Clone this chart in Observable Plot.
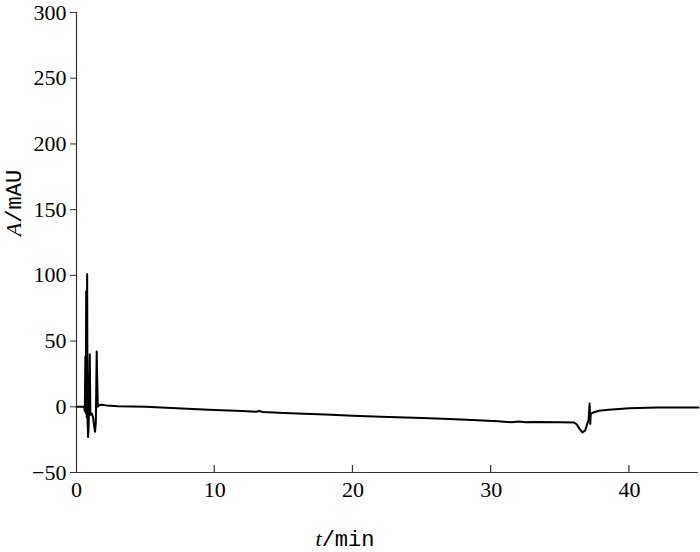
<!DOCTYPE html>
<html>
<head>
<meta charset="utf-8">
<script src="https://cdn.jsdelivr.net/npm/d3@7"></script>
<script src="https://cdn.jsdelivr.net/npm/@observablehq/plot@0.6"></script>
<style>
  body { margin: 0; background: #fff; }
</style>
</head>
<body>
<div id="chart"></div>
<script>
const times = [0, 0.55, 0.6, 0.64, 0.67, 0.7, 0.74, 0.77, 0.8, 0.84, 0.88, 0.92, 0.96, 1.0, 1.1, 1.2, 1.28, 1.34, 1.4, 1.46, 1.5, 1.54, 1.6, 1.8, 2.2, 3, 5, 8, 10, 12, 13, 13.2, 13.5, 15, 18, 20, 22, 25, 27, 29, 30.5, 31.5, 32, 32.5, 33, 35, 36, 36.2, 36.4, 36.6, 36.8, 36.95, 37.05, 37.12, 37.17, 37.2, 37.25, 37.5, 37.8, 38.5, 40, 42, 45];
const absorbance = [0, 0, -3, 38, -5, 88, -8, 101, -10, -23, -15, 10, 40, -6, -5, -8, -15, -19, -12, 42, 20, 0, 1, 1.5, 1, 0.5, 0, -1.5, -2.5, -3.2, -3.8, -3.2, -4, -4.8, -5.8, -6.8, -7.5, -8.5, -9.3, -10.3, -11, -11.8, -11.2, -11.7, -11.5, -11.8, -12, -13.5, -17, -19.5, -18, -13, -10, 2.5, -13, -6, -5, -4, -3, -2.2, -1.2, -0.6, -0.5];
const xTicks = [0, 10, 20, 30, 40];
const yTicks = [-50, 0, 50, 100, 150, 200, 250, 300];

const data = times.map((t, i) => ({t, a: absorbance[i]}));

const chart = Plot.plot({
  width: 700,
  height: 552,
  marginLeft: 76,
  marginRight: 2,
  marginTop: 12,
  marginBottom: 80,
  style: {fontFamily: "'Liberation Serif', serif", fontSize: "22px", color: "#000", background: "#fff"},
  x: {domain: [0, 45]},
  y: {domain: [-50, 300]},
  marks: [
    Plot.axisY({ticks: yTicks, tickSize: 6, tickPadding: 4, label: null, stroke: "#333"}),
    Plot.axisX({ticks: xTicks, tickSize: 0, tickPadding: 9, label: null}),
    Plot.ruleX([0], {stroke: "#333", strokeWidth: 1.2}),
    Plot.ruleY([-50], {stroke: "#333", strokeWidth: 1.2}),
    Plot.line(data, {x: "t", y: "a", stroke: "#000", strokeWidth: 2, strokeLinejoin: "round"})
  ]
});

document.getElementById("chart").appendChild(chart);

const svg = d3.select(chart);
const xs = chart.scale("x");
const ys = chart.scale("y");
const yBase = ys.apply(-50);
svg.append("g").attr("class", "x-ticks-inward")
  .selectAll("line").data(xTicks.slice(1)).join("line")
  .attr("x1", d => xs.apply(d)).attr("x2", d => xs.apply(d))
  .attr("y1", yBase).attr("y2", yBase - 7)
  .attr("stroke", "#333").attr("stroke-width", 1.2);

const yl = svg.append("text")
  .attr("transform", "translate(21,203) rotate(-90)")
  .attr("text-anchor", "middle")
  .attr("font-size", 22)
  .attr("fill", "#000");
yl.append("tspan").attr("font-style", "italic").attr("font-family", "'Liberation Serif', serif").text("A");
yl.append("tspan").attr("font-family", "'Liberation Mono', monospace").text("/mAU");

const xl = svg.append("text")
  .attr("x", 345)
  .attr("y", 546)
  .attr("text-anchor", "middle")
  .attr("font-size", 22)
  .attr("fill", "#000");
xl.append("tspan").attr("font-style", "italic").attr("font-family", "'Liberation Serif', serif").text("t");
xl.append("tspan").attr("font-family", "'Liberation Mono', monospace").text("/min");
</script>
</body>
</html>
